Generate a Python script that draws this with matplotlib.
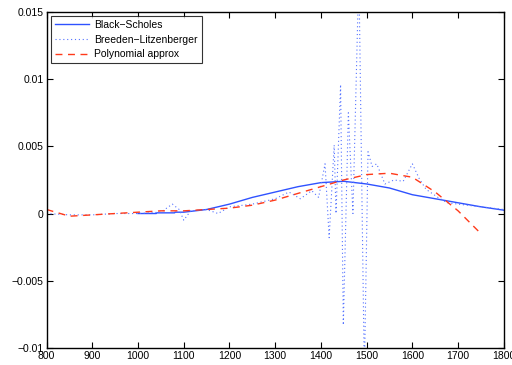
import matplotlib
matplotlib.use("Agg")
import matplotlib.pyplot as plt

plt.rcParams['font.family'] = ['Liberation Sans', 'DejaVu Sans']

# Black-Scholes density
bs_x = [1000, 1040, 1041, 1080, 1081, 1100, 1150, 1200, 1250, 1300, 1350, 1400, 1450,
        1500, 1550, 1600, 1650, 1700, 1750, 1800]
bs_y = [0.0, 0.0, 0.00005, 0.00005, 0.0001, 0.0001, 0.0003, 0.0007, 0.0012, 0.0016,
        0.0020, 0.0023, 0.0024, 0.0022, 0.0019, 0.0014, 0.0011, 0.0008, 0.0005, 0.00025]

# Breeden-Litzenberger estimate
bl_x = [800, 850, 900, 950, 1000, 1050, 1075, 1090, 1100, 1115, 1150, 1175, 1200, 1250,
        1300, 1330, 1355, 1380, 1395, 1409, 1418, 1429, 1433, 1443, 1449, 1460, 1470,
        1483, 1495, 1503, 1512, 1522, 1540, 1560, 1580, 1600, 1615, 1630, 1656, 1676,
        1700, 1750, 1800]
bl_y = [0.0, -0.0001, -0.0001, 0.0, 0.0, 0.0001, 0.0007, 0.0003, -0.0005, 0.0002,
        0.0003, 0.0, 0.0005, 0.0007, 0.0011, 0.0016, 0.0011, 0.0017, 0.0012, 0.0037,
        -0.0018, 0.0051, 0.0, 0.0096, -0.0083, 0.0075, 0.0, 0.018, -0.012, 0.0046,
        0.0035, 0.0037, 0.0022, 0.0025, 0.0024, 0.0037, 0.0026, 0.0018, 0.0012, 0.0008,
        0.0007, 0.0005, 0.0003]

# Polynomial approximation
pa_x = [800, 850, 900, 950, 1000, 1050, 1100, 1150, 1200, 1250, 1300, 1350, 1400, 1450,
        1500, 1550, 1600, 1650, 1700, 1750]
pa_y = [0.0003, -0.0002, -0.0001, 0.0, 0.0001, 0.0002, 0.0002, 0.0003, 0.0004, 0.00062,
        0.001, 0.0015, 0.002, 0.0025, 0.0029, 0.0030, 0.0027, 0.0016, 0.0002, -0.0015]

xticks = [800, 900, 1000, 1100, 1200, 1300, 1400, 1500, 1600, 1700, 1800]
yticks = [-0.01, -0.005, 0, 0.005, 0.01, 0.015]
ytick_labels = ['\u22120.01', '\u22120.005', '0', '0.005', '0.01', '0.015']
labels = ['Black\u2212Scholes', 'Breeden\u2212Litzenberger', 'Polynomial approx']

fig = plt.figure(figsize=(5.12, 3.65), dpi=100)
ax = fig.add_axes([0.091, 0.047, 0.893, 0.92])

ax.plot(bs_x, bs_y, color='#2f52ff', lw=1.0, label=labels[0])
ax.plot(bl_x, bl_y, color='#5573ff', lw=0.8, linestyle=(0, (1, 2.5)), label=labels[1])
ax.plot(pa_x, pa_y, color='#ff3a1a', lw=1.0, linestyle=(0, (5, 4)), label=labels[2])

ax.set_xlim(800, 1800)
ax.set_ylim(-0.01, 0.015)
ax.set_xticks(xticks)
ax.set_xticklabels([str(v) for v in xticks])
ax.set_yticks(yticks)
ax.set_yticklabels(ytick_labels)
ax.tick_params(direction='in', length=4, width=0.8, labelsize=7.5, top=True, right=True,
               pad=2)
for s in ax.spines.values():
    s.set_linewidth(1.0)

leg = ax.legend(loc='upper left', bbox_to_anchor=(0.009, 0.989), borderaxespad=0,
                fontsize=7.5, frameon=True, fancybox=False, edgecolor='black',
                handlelength=3.3, handletextpad=0.5, labelspacing=0.45,
                borderpad=0.4)
leg.get_frame().set_linewidth(0.8)

fig.savefig('out.png', dpi=100)
